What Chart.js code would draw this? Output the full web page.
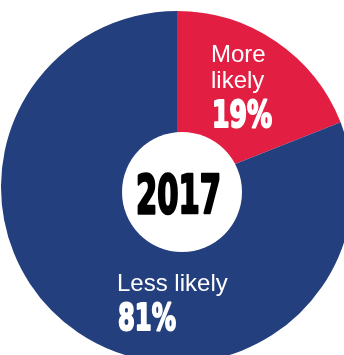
<!DOCTYPE html>
<html>
<head>
<meta charset="utf-8">
<title>2017</title>
<script src="https://cdn.jsdelivr.net/npm/chart.js@4"></script>
<style>
  html, body { margin: 0; padding: 0; background: #fff; overflow: hidden; }
  body { width: 344px; height: 355px; position: relative; }
  #poll { position: absolute; left: 1px; top: 11px; }
</style>
</head>
<body>
<canvas id="poll" width="352" height="352"></canvas>
<script>
// answers and their shares (per cent)
const answers = ["More likely", "Less likely"];
const shares = [19, 81];
const slice_colors = ["#e21f43", "#243f7e"];
const year_label = "2017";

const ctx = document.getElementById("poll").getContext("2d");

const thin_font = '"Liberation Sans", Arial, sans-serif';
const heavy_font = '"Liberation Sans Narrow", "DejaVu Sans Condensed", sans-serif';

// heavy figure text squeezed to a given width
function heavyText(c, text, x, y, size, width, color, weight) {
	c.save();
	c.font = "bold " + size + "px " + heavy_font;
	const squeeze = width / c.measureText(text).width;
	c.translate(x, y);
	c.scale(squeeze, 1);
	c.fillStyle = color;
	c.strokeStyle = color;
	c.lineWidth = weight;
	c.lineJoin = "round";
	c.textBaseline = "alphabetic";
	c.fillText(text, 0, 0);
	c.strokeText(text, 0, 0);
	c.restore();
}

const slice_labels = {
	id: "sliceLabels",
	afterDatasetsDraw(chart) {
		const c = chart.ctx;
		const arc = chart.getDatasetMeta(0).data[0];
		const cx = arc.x, cy = arc.y;

		c.save();
		// the white hole, set a little off the pie's centre
		c.fillStyle = "#fff";
		c.beginPath();
		c.arc(cx + 5, cy + 5, 60, 0, Math.PI * 2);
		c.fill();

		c.textBaseline = "alphabetic";
		c.textAlign = "left";
		c.font = "24px " + thin_font;

		// small slice: words split over two lines
		const more = answers[0].split(" ");
		c.fillText(more[0], cx + 34, cy - 125);
		c.fillText(more[1], cx + 34, cy - 99);
		heavyText(c, shares[0] + "%", cx + 35, cy - 60, 37, 60, "#fff", 2);

		// big slice
		c.font = "24px " + thin_font;
		c.fillStyle = "#fff";
		c.fillText(answers[1], cx - 60, cy + 104);
		heavyText(c, shares[1] + "%", cx - 59, cy + 143, 38, 58, "#fff", 2);

		// year in the hole
		heavyText(c, year_label, cx - 41, cy + 26, 54, 85, "#000", 2.6);
		c.restore();
	}
};

let poll_chart = new Chart(ctx, {
	type: "pie",
	data: {
		labels: answers,
		datasets: [{
			data: shares,
			backgroundColor: slice_colors,
			borderWidth: 0
		}]
	},
	options: {
		responsive: false,
		animation: false,
		layout: { padding: 0 },
		plugins: {
			legend: { display: false },
			tooltip: { enabled: false }
		}
	},
	plugins: [slice_labels]
});
</script>
</body>
</html>
